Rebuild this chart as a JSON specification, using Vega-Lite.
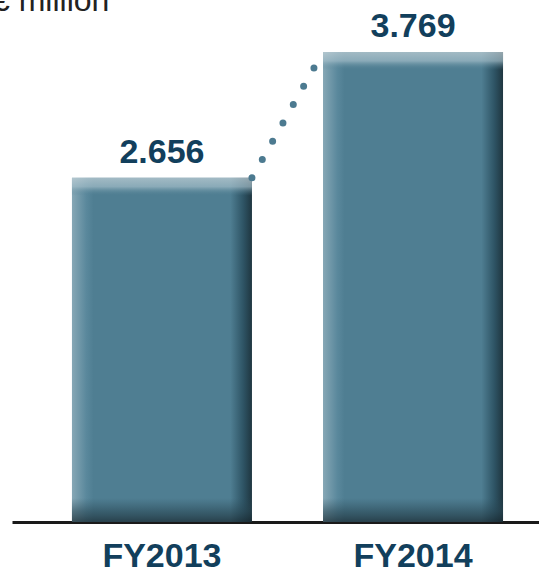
{
  "$schema": "https://vega.github.io/schema/vega-lite/v6.json",
  "autosize": "none",
  "width": 527,
  "height": 522,
  "padding": {"left": 12, "top": 0, "right": 0, "bottom": 55},
  "background": "white",
  "title": {"text": "€ million", "anchor": "start", "frame": "group", "orient": "top", "offset": 0, "dy": 43, "dx": -20, "baseline": "alphabetic", "font": "Liberation Sans", "fontSize": 32, "fontWeight": "normal", "color": "#222222"},
  "config": {"view": {"stroke": null}},
  "data": {"values": [
    {"year": "FY2013", "value": 2.656, "label": "2.656"},
    {"year": "FY2014", "value": 3.769, "label": "3.769"}
  ]},
  "encoding": {
    "x": {"field": "year", "type": "nominal", "sort": null,
      "scale": {"paddingInner": 0.283, "paddingOuter": 0.191, "align": 0.625},
      "axis": {"title": null, "ticks": false, "domain": true, "domainColor": "#1a1a1a", "domainWidth": 3, "labelAngle": 0, "labelFont": "Liberation Sans", "labelFontSize": 34, "labelFontWeight": "bold", "labelColor": "#123f5c", "labelPadding": 17, "labelBaseline": "top"}}
  },
  "layer": [
    {
      "mark": {"type": "bar", "fill": {"gradient": "linear", "x1": 0, "y1": 0, "x2": 1, "y2": 0, "stops": [
        {"offset": 0, "color": "#86a7b5"},
        {"offset": 0.08, "color": "#5a889c"},
        {"offset": 0.12, "color": "#4f7e92"},
        {"offset": 0.88, "color": "#4f7e92"},
        {"offset": 0.95, "color": "#2f5566"},
        {"offset": 1, "color": "#1f3640"}]}},
      "encoding": {
        "y": {"field": "value", "type": "quantitative", "scale": {"domain": [-0.391, 4.229], "zero": false, "nice": false}, "axis": null},
        "y2": {"datum": -0.391}
      }
    },
    {
      "mark": {"type": "tick", "thickness": 18, "size": 180, "yOffset": 9, "fill": {"gradient": "linear", "x1": 0, "y1": 0, "x2": 0, "y2": 1, "stops": [
        {"offset": 0, "color": "#c6d4da"},
        {"offset": 0.5, "color": "#a3bdc8"},
        {"offset": 1, "color": "rgba(79,126,146,0)"}]}},
      "encoding": {
        "y": {"field": "value", "type": "quantitative"}
      }
    },
    {
      "mark": {"type": "tick", "thickness": 24, "size": 180, "yOffset": -12, "fill": {"gradient": "linear", "x1": 0, "y1": 0, "x2": 0, "y2": 1, "stops": [
        {"offset": 0, "color": "rgba(44,76,90,0)"},
        {"offset": 0.55, "color": "rgba(38,66,78,0.75)"},
        {"offset": 1, "color": "#17262d"}]}},
      "encoding": {
        "y": {"datum": -0.391}
      }
    },
    {
      "mark": {"type": "text", "baseline": "alphabetic", "dy": -15, "font": "Liberation Sans", "fontSize": 34, "fontWeight": "bold", "color": "#123f5c"},
      "encoding": {
        "y": {"field": "value", "type": "quantitative"},
        "text": {"field": "label"}
      }
    },
    {
      "data": {"values": [{"from": "FY2013", "to": "FY2014", "v1": 2.656, "v2": 3.769}]},
      "mark": {"type": "rule", "strokeWidth": 7, "strokeCap": "round", "strokeDash": [0, 21], "color": "#4c7a90"},
      "encoding": {
        "x": {"field": "from", "type": "nominal", "bandPosition": 1},
        "x2": {"field": "to", "bandPosition": 0},
        "y": {"field": "v1", "type": "quantitative"},
        "y2": {"field": "v2"}
      }
    }
  ]
}
